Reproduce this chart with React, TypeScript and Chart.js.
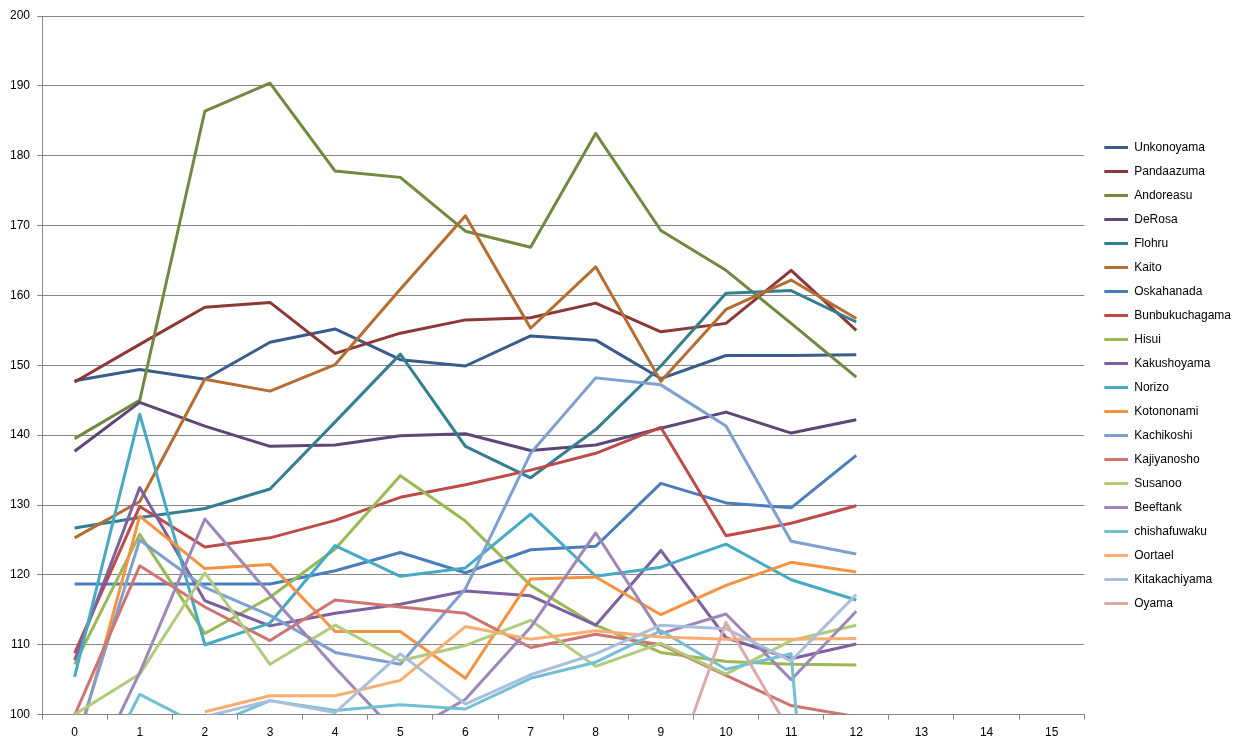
import React, { useEffect, useRef } from "react";
import { Chart, registerables } from "chart.js";

Chart.register(...registerables);

const categories = ["0", "1", "2", "3", "4", "5", "6", "7", "8", "9", "10", "11", "12", "13", "14", "15"];

const seriesNames = [
  "Unkonoyama", "Pandaazuma", "Andoreasu", "DeRosa", "Flohru", "Kaito", "Oskahanada",
  "Bunbukuchagama", "Hisui", "Kakushoyama", "Norizo", "Kotononami", "Kachikoshi",
  "Kajiyanosho", "Susanoo", "Beeftank", "chishafuwaku", "Oortael", "Kitakachiyama", "Oyama",
];

const unkonoyama = [147.8, 149.4, 148.0, 153.3, 155.2, 150.8, 149.9, 154.2, 153.6, 148.1, 151.4, 151.4, 151.5];
const pandaazuma = [147.6, 153.0, 158.3, 159.0, 151.7, 154.6, 156.5, 156.8, 158.9, 154.8, 156.0, 163.6, 155.0];
const andoreasu = [139.5, 145.0, 186.4, 190.4, 177.8, 176.9, 169.2, 166.9, 183.2, 169.3, 163.6, 156.0, 148.3];
const deRosa = [137.7, 144.7, 141.3, 138.4, 138.6, 139.9, 140.2, 137.8, 138.6, 141.0, 143.3, 140.3, 142.2];
const flohru = [126.7, 128.2, 129.5, 132.3, 141.9, 151.6, 138.4, 133.9, 140.8, 149.9, 160.3, 160.7, 156.2];
const kaito = [125.3, 130.5, 148.0, 146.3, 150.1, 160.9, 171.4, 155.3, 164.1, 147.7, 158.0, 162.2, 156.7];
const oskahanada = [118.7, 118.7, 118.7, 118.7, 120.6, 123.2, 120.3, 123.6, 124.1, 133.1, 130.3, 129.6, 137.1];
const bunbukuchagama = [108.8, 129.8, 124.0, 125.3, 127.8, 131.1, 132.9, 135.0, 137.4, 141.1, 125.6, 127.4, 129.9];
const hisui = [107.2, 125.8, 111.6, 116.8, 123.7, 134.2, 127.7, 118.5, 112.8, 108.9, 107.6, 107.2, 107.1];
const kakushoyama = [107.8, 132.5, 116.3, 112.7, 114.5, 115.8, 117.7, 117.0, 112.8, 123.5, 111.0, 108.0, 110.1];
const norizo = [105.4, 143.0, 110.0, 113.1, 124.2, 119.8, 121.0, 128.7, 119.8, 121.1, 124.4, 119.3, 116.4];
const kotononami = [94.2, 128.4, 120.9, 121.5, 111.9, 111.9, 105.2, 119.4, 119.7, 114.3, 118.5, 121.8, 120.4];
const kachikoshi = [95.4, 125.0, 118.2, 114.2, 108.9, 107.2, 118.0, 137.4, 148.2, 147.2, 141.3, 124.8, 123.0];
const kajiyanosho = [99.9, 121.3, 115.4, 110.6, 116.4, 115.4, 114.5, 109.6, 111.5, 110.0, 105.6, 101.3, 99.7];
const susanoo = [100.0, 105.8, 120.3, 107.2, 112.8, 107.7, 109.9, 113.5, 106.9, 110.2, 105.8, 110.6, 112.8];
const beeftank = [86.5, 106.0, 128.0, 117.2, 106.7, 96.8, 102.2, 112.5, 126.0, 111.6, 114.4, 105.0, 114.8];
const chishafuwaku = [84.6, 102.9, 98.1, 102.0, 100.6, 101.4, 100.8, 105.2, 107.5, 112.0, 106.5, 108.7, 0];
const oortael = [null, null, 100.4, 102.7, 102.7, 104.9, 112.6, 110.8, 112.0, 111.1, 110.8, 110.8, 110.9];
const kitakachiyama = [null, null, 99.7, 102.0, 100.3, 108.7, 101.5, 105.7, 108.7, 112.8, 112.3, 107.7, 117.2];
const oyama = [null, null, null, null, null, null, null, null, null, 87.0, 113.2, 97.3, null];

const seriesColors = [
  "#385D8A", "#8C3836", "#71893F", "#5C4776", "#357D91", "#B66D31",
  "#4A7EBB", "#BE4B48", "#98B954", "#7D60A0", "#46AAC5", "#F69240",
  "#7E9FCF", "#CE7573", "#B0CB7C", "#9C87B8", "#73BFD3", "#F9AD6E",
  "#A9BEDC", "#DBABA9",
];

const FONT = "'Liberation Sans', Arial, sans-serif";

const legendShift = {
  id: "legendShift",
  afterLayout(chart: any) {
    if (chart.legend) {
      chart.legend.top -= 5.5;
      chart.legend.bottom -= 5.5;
    }
  },
};

export default function App() {
  const ref = useRef<HTMLCanvasElement | null>(null);

  useEffect(() => {
    const values = [
      unkonoyama, pandaazuma, andoreasu, deRosa, flohru, kaito, oskahanada,
      bunbukuchagama, hisui, kakushoyama, norizo, kotononami, kachikoshi,
      kajiyanosho, susanoo, beeftank, chishafuwaku, oortael, kitakachiyama, oyama,
    ];
    const swatches = seriesColors.map((c) => {
      const cv = document.createElement("canvas");
      cv.width = 32;
      cv.height = 3;
      const g = cv.getContext("2d");
      if (g) {
        g.fillStyle = c;
        g.fillRect(8, 0, 24, 3);
      }
      return cv;
    });
    Chart.defaults.font.family = FONT;
    const chart = new Chart(ref.current as HTMLCanvasElement, {
      type: "line",
      data: {
        labels: categories,
        datasets: seriesNames.map((name, i) => ({
          label: name,
          data: values[i],
          borderColor: seriesColors[i],
          backgroundColor: seriesColors[i],
          borderWidth: 3,
          pointRadius: 0,
          pointHoverRadius: 0,
          tension: 0,
          clip: 0,
          order: -i,
          spanGaps: false,
          borderJoinStyle: "round",
          borderCapStyle: "butt",
        })),
      },
      options: {
        animation: false,
        responsive: true,
        maintainAspectRatio: false,
        events: [],
        layout: { padding: { left: 3, right: 3, top: 16, bottom: 2 } },
        plugins: {
          tooltip: { enabled: false },
          legend: {
            position: "right",
            labels: {
              usePointStyle: true,
              pointStyleWidth: 32,
              padding: 12,
              color: "#000",
              font: { family: FONT, size: 12 },
              sort: (a: any, b: any) => a.datasetIndex - b.datasetIndex,
              generateLabels: (c: any) => {
                const items = (Chart.defaults.plugins.legend.labels as any).generateLabels(c);
                return items.map((it: any) => ({ ...it, pointStyle: swatches[it.datasetIndex], lineWidth: 0 }));
              },
            },
          },
        },
        scales: {
          x: {
            offset: true,
            grid: { offset: true, drawOnChartArea: false, drawTicks: true, tickLength: 5, color: "#868686" },
            border: { color: "#868686" },
            ticks: { color: "#000", padding: 6, maxRotation: 0, autoSkip: false, font: { family: FONT, size: 12 } },
          },
          y: {
            min: 100,
            max: 200,
            ticks: { stepSize: 10, color: "#000", padding: 7, font: { family: FONT, size: 12 } },
            grid: { color: "#868686", tickLength: 5 },
            border: { color: "#868686" },
          },
        },
      },
      plugins: [legendShift],
    } as any);
    return () => chart.destroy();
  }, []);

  return (
    <div style={{ position: "fixed", left: 0, top: 0, width: 1244, height: 748, background: "#fff" }}>
      <canvas ref={ref} />
    </div>
  );
}
